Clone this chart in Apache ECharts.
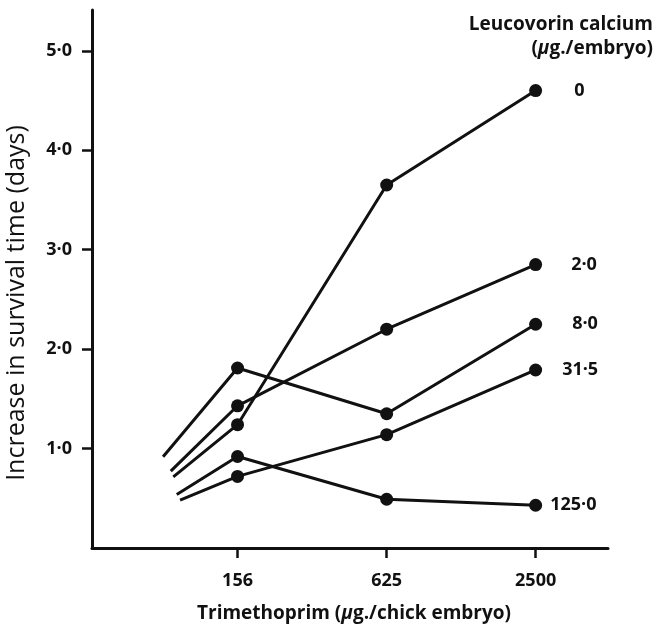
<!DOCTYPE html>
<html>
<head>
<meta charset="utf-8">
<script src="https://cdn.jsdelivr.net/npm/echarts@6/dist/echarts.min.js"></script>
<style>
html,body{margin:0;padding:0;background:#fff;}
#c{width:656px;height:627px;}
</style>
</head>
<body>
<div id="c"></div>
<script>
// Trimethoprim doses (µg./chick embryo)
const doses = [156, 625, 2500];
// Leucovorin calcium (µg./embryo) series names
const seriesNames = ['0', '2·0', '8·0', '31·5', '125·0'];
// Increase in survival time (days) for each series at 156, 625, 2500
const s0   = [1.24, 3.65, 4.60];
const s2   = [1.43, 2.20, 2.85];
const s8   = [1.81, 1.35, 2.25];
const s31  = [0.72, 1.14, 1.79];
const s125 = [0.92, 0.49, 0.43];
// Unmarked lead-in end of each line (dose, value)
const leadDose  = [85.8, 83.8, 78.0, 91.4, 88.6];
const leadValue = [0.716, 0.773, 0.917, 0.482, 0.539];
// Y ticks
const yTicks = [1, 2, 3, 4, 5];

const allSeries = [s0, s2, s8, s31, s125];
const labelGap = [32, 29, 30, 20, 8];

const FONT = '"Open Sans", "DejaVu Sans", sans-serif';
const INK = '#111';
const tx = d => Math.log(d / 156) / Math.log(4);

const series = allSeries.map((vals, i) => {
  const data = [{ value: [tx(leadDose[i]), leadValue[i]], symbol: 'none' }];
  vals.forEach((v, j) => {
    const item = { value: [tx(doses[j]), v] };
    if (j === vals.length - 1) {
      item.label = {
        show: true, position: 'right', distance: labelGap[i],
        formatter: seriesNames[i], color: INK, fontFamily: FONT,
        fontWeight: 'bold', fontSize: 18
      };
    }
    data.push(item);
  });
  return {
    type: 'line', name: seriesNames[i], data: data,
    symbol: 'circle', symbolSize: 13,
    itemStyle: { color: INK },
    lineStyle: { color: INK, width: 3 },
    label: { show: false },
    emphasis: { disabled: true },
    animation: false
  };
});

const boldRich = {
  a: { fontFamily: FONT, fontWeight: 'bold', fontSize: 19, color: INK },
  i: { fontFamily: FONT, fontWeight: 'bold', fontStyle: 'italic', fontSize: 19, color: INK }
};

const chart = echarts.init(document.getElementById('c'), null, { renderer: 'canvas' });
chart.setOption({
  backgroundColor: '#fff',
  animation: false,
  title: [
    { text: 'Leucovorin calcium', right: 3, top: 15, padding: 0,
      textStyle: { fontFamily: FONT, fontWeight: 'bold', fontSize: 19, color: INK } },
    { text: '{a|(}{i|μ}{a|g./embryo)}', right: 3, top: 39, padding: 0,
      textStyle: { rich: boldRich } }
  ],
  grid: { left: 92, right: 48, top: 10, bottom: 79, containLabel: false, outerBoundsMode: 'none' },
  xAxis: {
    type: 'value', min: -0.977, max: 2.487,
    name: '{a|Trimethoprim (}{i|μ}{a|g./chick embryo)}',
    nameLocation: 'middle', nameGap: 56, nameMoveOverlap: false,
    nameTextStyle: { padding: [0, 0, 0, 8], rich: boldRich },
    axisLine: { show: true, onZero: false, lineStyle: { color: INK, width: 3 } },
    axisTick: { show: true, customValues: doses.map(tx), length: 10, lineStyle: { color: INK, width: 2.5 } },
    axisLabel: {
      show: true, customValues: doses.map(tx), margin: 24,
      formatter: v => { const d = doses.find(d => Math.abs(tx(d) - v) < 1e-6); return d === undefined ? '' : String(d); },
      fontFamily: FONT, fontWeight: 'bold', fontSize: 18, color: INK
    },
    splitLine: { show: false }
  },
  yAxis: {
    type: 'value', min: 0, max: 5.41,
    name: 'Increase in survival time (days)',
    nameLocation: 'middle', nameGap: 63, nameMoveOverlap: false,
    nameTextStyle: { fontFamily: FONT, fontSize: 25, color: INK, padding: [0, 48, 0, 0] },
    axisLine: { show: true, onZero: false, lineStyle: { color: INK, width: 3 } },
    axisTick: { show: true, customValues: yTicks, length: 10, lineStyle: { color: INK, width: 2.5 } },
    axisLabel: {
      show: true, customValues: yTicks, margin: 20,
      formatter: v => v.toFixed(1).replace('.', '·'),
      fontFamily: FONT, fontWeight: 'bold', fontSize: 18, color: INK
    },
    splitLine: { show: false }
  },
  series: series
});
</script>
</body>
</html>
